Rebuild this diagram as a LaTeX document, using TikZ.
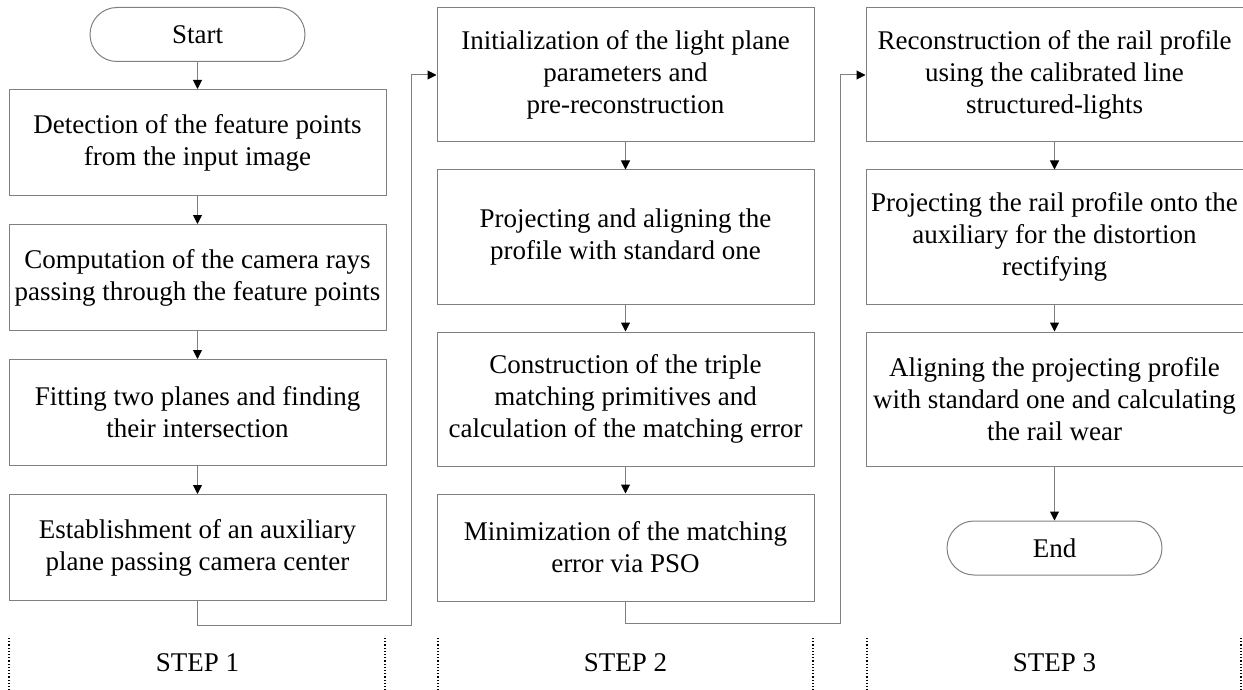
\documentclass[tikz,border=0pt]{standalone}
\usepackage{fontspec}
\setmainfont{Liberation Serif}
\usetikzlibrary{arrows.meta,positioning}

\begin{document}
\begin{tikzpicture}[
  x=0.5pt, y=-0.5pt,
  font=\fontsize{13.5}{16}\selectfont,
  stagebox/.style={draw=gray, line width=0.5pt, align=center, inner sep=0pt,
    minimum width=188.5pt, minimum height=53pt},
  tallbox/.style={stagebox, minimum height=67pt},
  terminal/.style={draw=gray, line width=0.5pt, rounded corners=13.5pt,
    inner sep=0pt, minimum width=107.5pt, minimum height=27pt},
  flow/.style={draw=gray, line width=0.5pt,
    -{Triangle[length=4.5pt, width=4.5pt, color=black]}},
  divider/.style={densely dotted, line width=0.6pt},
  steplab/.style={font=\fontsize{13.5}{16}\selectfont}
]
\useasboundingbox (0,0) rectangle (1243,690);

% step 1
\node[terminal] (start) at (197.5,34.5) {Start};
\node[stagebox, below=13.5pt of start] (A1) {Detection of the feature points\\from the input image};
\node[stagebox, below=14pt of A1] (A2) {Computation of the camera rays\\passing through the feature points};
\node[stagebox, below=14pt of A2] (A3) {Fitting two planes and finding\\their intersection};
\node[stagebox, below=14pt of A3] (A4) {Establishment of an auxiliary\\plane passing camera center};

% step 2
\node[tallbox] (B1) at (625.5,75) {Initialization of the light plane\\parameters and\\pre-reconstruction};
\node[tallbox, below=13.5pt of B1] (B2) {Projecting and aligning the\\profile with standard one};
\node[tallbox, below=13.5pt of B2] (B3) {Construction of the triple\\matching primitives and\\calculation of the matching error};
\node[stagebox, minimum height=53.5pt, below=13.5pt of B3] (B4) {Minimization of the matching\\error via PSO};

% step 3
\node[tallbox] (C1) at (1054.5,75) {Reconstruction of the rail profile\\using the calibrated line\\structured-lights};
\node[tallbox, below=13.5pt of C1] (C2) {Projecting the rail profile onto the\\auxiliary for the distortion\\rectifying};
\node[tallbox, below=13.5pt of C2] (C3) {Aligning the projecting profile\\with standard one and calculating\\the rail wear};
\node[terminal, below=27pt of C3] (end) {End};

\draw[flow] (start) -- (A1);
\draw[flow] (A1) -- (A2);
\draw[flow] (A2) -- (A3);
\draw[flow] (A3) -- (A4);
\draw[flow] (B1) -- (B2);
\draw[flow] (B2) -- (B3);
\draw[flow] (B3) -- (B4);
\draw[flow] (C1) -- (C2);
\draw[flow] (C2) -- (C3);
\draw[flow] (C3) -- (end);

% links between the steps
\coordinate (j1) at (411,625);
\coordinate (j2) at (840,623);
\draw[flow] (A4.south) |- (j1) |- (B1.west);
\draw[flow] (B4.south) |- (j2) |- (C1.west);

% step dividers
\foreach \xd in {9,385,438,813,867,1241}
  \draw[divider] (\xd,638) -- (\xd,690);
\node[steplab] (S1) at (197.5,663) {STEP 1};
\node[steplab] (S2) at (625.5,663) {STEP 2};
\node[steplab] (S3) at (1054.5,663) {STEP 3};
\end{tikzpicture}
\end{document}
